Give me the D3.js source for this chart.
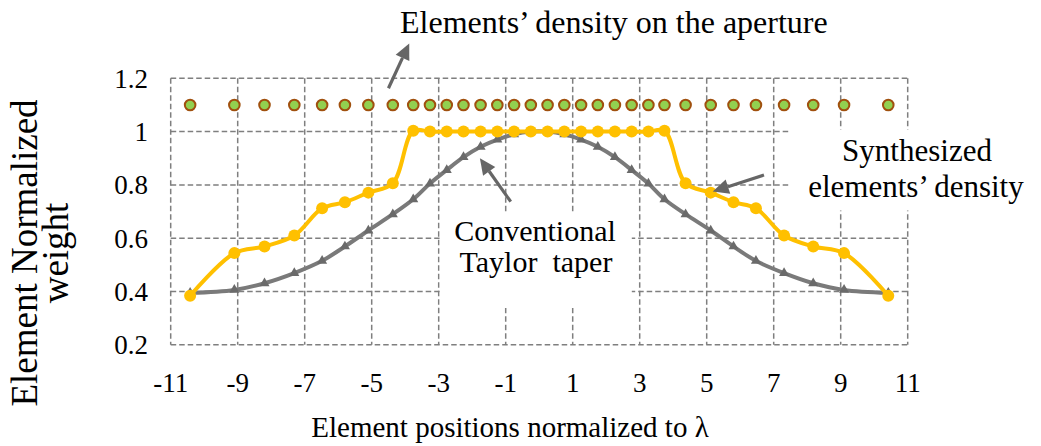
<!DOCTYPE html>
<html>
<head>
<meta charset="utf-8">
<script src="https://cdn.jsdelivr.net/npm/d3@7"></script>
<style>
  html, body { margin: 0; padding: 0; background: #fff; }
  svg { display: block; font-family: "Liberation Serif", "Times New Roman", serif; }
</style>
</head>
<body>
<svg id="chart" width="1041" height="446"></svg>
<script>
// Element positions (normalized to wavelength)
const positions = [-10.42, -9.1, -8.2, -7.31, -6.48, -5.8, -5.1, -4.37, -3.76, -3.26, -2.76, -2.26, -1.75, -1.25, -0.75, -0.25,
                   0.25, 0.75, 1.25, 1.75, 2.26, 2.76, 3.26, 3.74, 4.37, 5.12, 5.8, 6.47, 7.31, 8.18, 9.1, 10.42];
// Synthesized element weights
const synthesized = [0.384, 0.544, 0.569, 0.61, 0.712, 0.735, 0.771, 0.806, 1.003, 1, 1, 1, 1, 1, 1, 1,
                     1, 1, 1, 1, 1, 1, 1, 1.003, 0.806, 0.771, 0.735, 0.712, 0.61, 0.569, 0.544, 0.384];
// Conventional Taylor taper weights
const taylor = [0.395, 0.406, 0.431, 0.469, 0.515, 0.569, 0.629, 0.69, 0.746, 0.805, 0.856, 0.904, 0.943, 0.97, 0.99, 1.0,
                1.0, 0.99, 0.97, 0.943, 0.904, 0.856, 0.805, 0.746, 0.69, 0.629, 0.569, 0.515, 0.469, 0.431, 0.406, 0.395];
// Row showing where elements sit on the aperture
const apertureRow = [1.1, 1.1, 1.1, 1.1, 1.1, 1.1, 1.1, 1.1, 1.1, 1.1, 1.1, 1.1, 1.1, 1.1, 1.1, 1.1,
                     1.1, 1.1, 1.1, 1.1, 1.1, 1.1, 1.1, 1.1, 1.1, 1.1, 1.1, 1.1, 1.1, 1.1, 1.1, 1.1];

const xTicks = [-11, -9, -7, -5, -3, -1, 1, 3, 5, 7, 9, 11];
const xTickLabels = ["-11", "-9", "-7", "-5", "-3", "-1", "1", "3", "5", "7", "9", "11"];
const yTicks = [0.2, 0.4, 0.6, 0.8, 1.0, 1.2];
const yTickLabels = ["0.2", "0.4", "0.6", "0.8", "1", "1.2"];

const svg = d3.select("#chart");

const x = d3.scaleLinear().domain([-11, 11]).range([170.7, 907.7]);
const y = d3.scaleLinear().domain([0.2, 1.2]).range([344.8, 78.3]);

const gridColor = "#7f7f7f";
const grid = svg.append("g")
  .attr("stroke", gridColor)
  .attr("stroke-width", 1.5)
  .attr("stroke-dasharray", "5.5,3")
  .attr("fill", "none");

grid.selectAll("line.h").data(yTicks).join("line")
  .attr("class", "h")
  .attr("x1", x(-11)).attr("x2", x(11))
  .attr("y1", d => y(d)).attr("y2", d => y(d));

grid.selectAll("line.v").data(xTicks).join("line")
  .attr("class", "v")
  .attr("x1", d => x(d)).attr("x2", d => x(d))
  .attr("y1", y(1.2)).attr("y2", y(0.2));

// Text boxes with white fill sit above the grid
const boxes = svg.append("g").attr("fill", "#fff");
boxes.append("rect").attr("x", 439.8).attr("y", 212).attr("width", 192).attr("height", 96);
boxes.append("rect").attr("x", 790).attr("y", 129.5).attr("width", 250).attr("height", 81);

// Series
const pts = (vals) => positions.map((p, i) => [p, vals[i]]);
const line = d3.line()
  .x(d => x(d[0]))
  .y(d => y(d[1]))
  .curve(d3.curveCatmullRom.alpha(0.5));

const taylorColor = "#7a7a7a";
const synthColor = "#FFC000";

svg.append("path")
  .datum(pts(taylor))
  .attr("d", line)
  .attr("fill", "none")
  .attr("stroke", taylorColor)
  .attr("stroke-width", 4)
  .attr("stroke-linejoin", "round");

svg.append("g").selectAll("path")
  .data(pts(taylor)).join("path")
  .attr("d", d3.symbol(d3.symbolTriangle, 44))
  .attr("transform", d => `translate(${x(d[0])},${y(d[1])})`)
  .attr("fill", "#6a6a6a");

svg.append("path")
  .datum(pts(synthesized))
  .attr("d", line)
  .attr("fill", "none")
  .attr("stroke", synthColor)
  .attr("stroke-width", 4)
  .attr("stroke-linejoin", "round");

svg.append("g").selectAll("circle")
  .data(pts(synthesized)).join("circle")
  .attr("cx", d => x(d[0]))
  .attr("cy", d => y(d[1]))
  .attr("r", 6)
  .attr("fill", synthColor);

svg.append("g").selectAll("circle")
  .data(pts(apertureRow)).join("circle")
  .attr("cx", d => x(d[0]))
  .attr("cy", d => y(d[1]))
  .attr("r", 5.3)
  .attr("fill", "#92D050")
  .attr("stroke", "#A0500E")
  .attr("stroke-width", 2);

// Tick labels
svg.append("g").selectAll("text")
  .data(yTicks).join("text")
  .attr("x", 148)
  .attr("y", d => y(d))
  .attr("dy", "0.35em")
  .attr("text-anchor", "end")
  .attr("font-size", 27)
  .attr("fill", "#000")
  .text((d, i) => yTickLabels[i]);

svg.append("g").selectAll("text")
  .data(xTicks).join("text")
  .attr("x", d => x(d))
  .attr("y", 392)
  .attr("text-anchor", "middle")
  .attr("font-size", 27)
  .attr("fill", "#000")
  .text((d, i) => xTickLabels[i]);

// Axis titles
svg.append("text")
  .attr("x", 510).attr("y", 437)
  .attr("text-anchor", "middle")
  .attr("font-size", 29)
  .text("Element positions normalized to λ");

const yTitle = svg.append("text")
  .attr("transform", "translate(0,253) rotate(-90)")
  .attr("text-anchor", "middle")
  .attr("font-size", 37);
yTitle.append("tspan").attr("x", 0).attr("y", 37).text("Element Normalized");
yTitle.append("tspan").attr("x", 0).attr("y", 68).text("weight");

// Annotations
const notes = svg.append("g").attr("font-size", 31).attr("text-anchor", "middle");
notes.append("text").attr("x", 400).attr("y", 33).attr("text-anchor", "start").attr("font-size", 32)
  .text("Elements’ density on the aperture");
notes.append("text").attr("x", 535).attr("y", 241).attr("font-size", 30).text("Conventional");
notes.append("text").attr("x", 536).attr("y", 272).attr("font-size", 30)
  .style("white-space", "pre").text("Taylor  taper");
notes.append("text").attr("x", 917).attr("y", 161).text("Synthesized");
notes.append("text").attr("x", 916).attr("y", 197).text("elements’ density");

// Arrows, given in data units as [tail, tip]
const arrows = [
  [[-4.50, 1.1625], [-3.88, 1.331]],
  [[-0.85, 0.737], [-1.77, 0.90]],
  [[6.71, 0.837], [5.18, 0.775]]
];
const arrowColor = "#666666";
const arrowG = svg.append("g");
arrows.forEach(([tail, tip]) => {
  const x0 = x(tail[0]), y0 = y(tail[1]), x1 = x(tip[0]), y1 = y(tip[1]);
  const ang = Math.atan2(y1 - y0, x1 - x0);
  const headLen = 16, headHalf = 7.5;
  const bx = x1 - headLen * Math.cos(ang), by = y1 - headLen * Math.sin(ang);
  arrowG.append("line")
    .attr("x1", x0).attr("y1", y0).attr("x2", bx).attr("y2", by)
    .attr("stroke", arrowColor).attr("stroke-width", 3.2);
  const px = -Math.sin(ang) * headHalf, py = Math.cos(ang) * headHalf;
  arrowG.append("path")
    .attr("d", `M${x1},${y1}L${bx + px},${by + py}L${bx - px},${by - py}Z`)
    .attr("fill", arrowColor);
});
</script>
</body>
</html>
